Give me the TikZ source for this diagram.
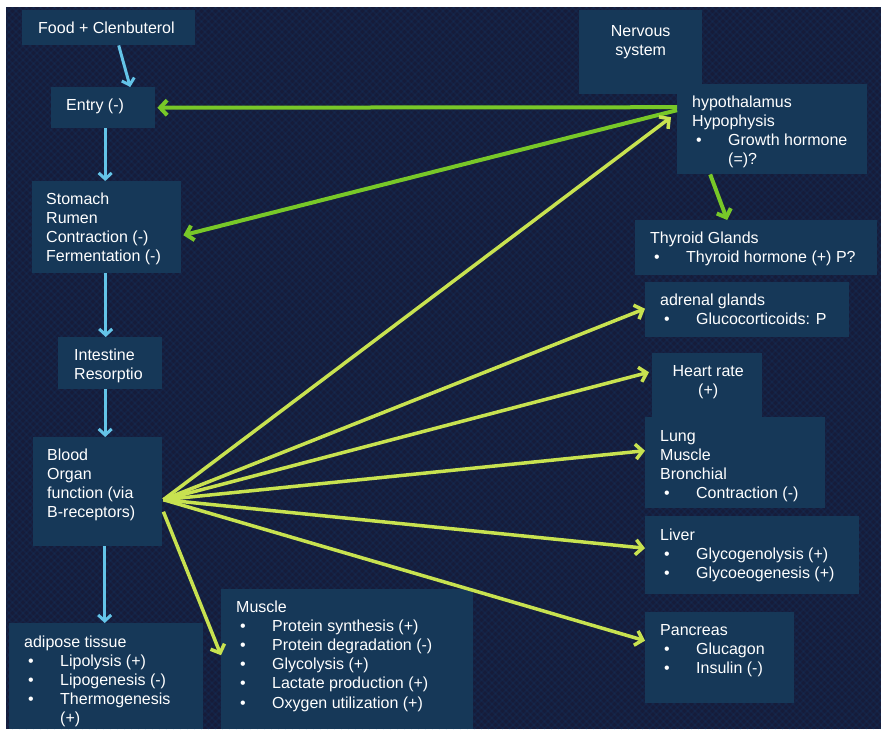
\documentclass[tikz,border=0pt]{standalone}
\usepackage{fontspec}
\setmainfont{Liberation Sans}
\usetikzlibrary{arrows.meta}
\definecolor{bg}{RGB}{22,28,58}
\definecolor{boxc}{RGB}{22,56,88}
\definecolor{skyc}{RGB}{100,196,232}
\definecolor{grnc}{RGB}{120,200,40}
\definecolor{limc}{RGB}{200,226,80}
\newcommand\itm[1]{\hspace*{4pt}\makebox[32pt][l]{\textbullet}#1}
\newcommand\cont{\hspace*{36pt}}
\begin{document}
\begin{tikzpicture}[x=1pt,y=-1pt,
  box/.style={fill=boxc, draw=none, inner sep=0, anchor=north west},
  txt/.style={anchor=base west, inner sep=0, text=white, font=\fontsize{16}{19.2}\selectfont},
  blu/.style={draw=skyc, line width=3pt, -{Straight Barb[length=6pt,width=13pt]}},
  grn/.style={draw=grnc, line width=4pt, -{Straight Barb[length=7pt,width=15pt]}},
  lim/.style={draw=limc, line width=3.5pt, -{Straight Barb[length=7pt,width=15pt]}}]
\useasboundingbox (0,0) rectangle (881,729);
\fill[white] (0,0) rectangle (881,729);
\fill[bg] (6,7) rectangle (881,729);
\begin{scope}
\clip (6,7) rectangle (881,729);
\foreach \i in {6,13,...,1610} {
  \draw[cyan!60!blue, opacity=0.07, line width=1.5pt] (\i,7) -- ++(-722,722);
  \draw[cyan!60!blue, opacity=0.07, line width=1.5pt] (\i-722,7) -- ++(722,722);
}
\end{scope}

% boxes
\node[box, minimum width=173pt, minimum height=35pt] (food) at (22,10) {};
\node[box, minimum width=104pt, minimum height=41pt] (entry) at (51,87) {};
\node[box, minimum width=149pt, minimum height=92pt] (stom) at (32,181) {};
\node[box, minimum width=104pt, minimum height=52pt] (intest) at (58,337) {};
\node[box, minimum width=129pt, minimum height=109pt] (blood) at (33,437) {};
\node[box, minimum width=194pt, minimum height=106pt] (adip) at (9,623) {};
\node[box, minimum width=252pt, minimum height=140pt] (musc) at (221,589) {};
\node[box, minimum width=123pt, minimum height=84pt] (nerv) at (579,10) {};
\node[box, minimum width=190pt, minimum height=90pt] (hyp) at (677,84) {};
\node[box, minimum width=242pt, minimum height=55pt] (thy) at (635,220) {};
\node[box, minimum width=204pt, minimum height=55pt] (adr) at (645,282) {};
\node[box, minimum width=110pt, minimum height=64pt] (heart) at (652,353) {};
\node[box, minimum width=180pt, minimum height=91pt] (lung) at (645,417) {};
\node[box, minimum width=214pt, minimum height=78pt] (liver) at (645,516) {};
\node[box, minimum width=149pt, minimum height=91pt] (panc) at (645,612) {};

% texts
\node[txt] (foodt) at (38,33) {\parbox[t]{170pt}{Food + Clenbuterol}};
\node[txt] (entryt) at (66,110) {\parbox[t]{100pt}{Entry (-)}};
\node[txt] (stomt) at (46,204) {\parbox[t]{150pt}{Stomach\\Rumen\\Contraction (-)\\Fermentation (-)}};
\node[txt] (intestt) at (74,360) {\parbox[t]{100pt}{Intestine\\Resorptio}};
\node[txt] (bloodt) at (47,460) {\parbox[t]{130pt}{Blood\\Organ\\function (via\\B-receptors)}};
\node[txt] (adipt) at (24,647) {\parbox[t]{190pt}{adipose tissue\\\itm{Lipolysis (+)}\\\itm{Lipogenesis (-)}\\\itm{Thermogenesis}\\\cont(+)}};
\node[txt] (musct) at (236,612) {\parbox[t]{250pt}{Muscle\\\itm{Protein synthesis (+)}\\\itm{Protein degradation (-)}\\\itm{Glycolysis (+)}\\\itm{Lactate production (+)}\\\itm{Oxygen utilization (+)}}};
\node[txt] (nervt) at (579,36) {\parbox[t]{123pt}{\centering Nervous\\system\par}};
\node[txt] (hypt) at (692,107) {\parbox[t]{180pt}{hypothalamus\\Hypophysis\\\itm{Growth hormone}\\\cont(=)?}};
\node[txt] (thyt) at (650,243) {\parbox[t]{230pt}{Thyroid Glands\\\itm{Thyroid hormone (+) P?}}};
\node[txt] (adrt) at (660,305) {\parbox[t]{200pt}{adrenal glands\\\itm{Glucocorticoids: P}}};
\node[txt] (heartt) at (652,376) {\parbox[t]{112pt}{\centering Heart rate\\(+)\par}};
\node[txt] (lungt) at (660,441) {\parbox[t]{170pt}{Lung\\Muscle\\Bronchial\\\itm{Contraction (-)}}};
\node[txt] (livert) at (660,540) {\parbox[t]{200pt}{Liver\\\itm{Glycogenolysis (+)}\\\itm{Glycoeogenesis (+)}}};
\node[txt] (panct) at (660,635) {\parbox[t]{140pt}{Pancreas\\\itm{Glucagon}\\\itm{Insulin (-)}}};

% blue chain
\draw[blu] ([xshift=10pt]food.south) -- ([xshift=27pt]entry.north);
\draw[blu] ([xshift=2pt]entry.south) -- ([xshift=2pt]entry.south |- stom.north);
\draw[blu] ([xshift=-1pt]stom.south) -- ([xshift=-1pt]stom.south |- intest.north);
\draw[blu] ([xshift=-5pt]intest.south) -- ([xshift=-5pt]intest.south |- blood.north);
\draw[blu] ([xshift=7pt]blood.south) -- ([xshift=7pt]blood.south |- adip.north);

% green from hypothalamus
\draw[grn] ([yshift=22pt]hyp.west) -- ([xshift=2pt]entry.east);
\draw[grn] ([yshift=19pt]hyp.west) -- ([xshift=2pt,yshift=-8pt]stom.east);
\draw[grn] ([xshift=-62pt]hyp.south) -- ([xshift=-29pt]thy.north);

% fan from blood
\coordinate (fan) at ([xshift=1pt,yshift=-8pt]blood.east);
\draw[lim] (fan) -- ([xshift=-6pt,yshift=12pt]hyp.west);
\draw[lim] (fan) -- ([yshift=1pt]adr.west);
\draw[lim] (fan) -- ([xshift=-3pt,yshift=13pt]heart.west);
\draw[lim] (fan) -- ([yshift=12pt]lung.west);
\draw[lim] (fan) -- ([yshift=7pt]liver.west);
\draw[lim] (fan) -- ([yshift=17pt]panc.west);
\draw[lim] ([xshift=1pt,yshift=-20pt]blood.east) -- ([yshift=4pt]musc.west);
\end{tikzpicture}
\end{document}
